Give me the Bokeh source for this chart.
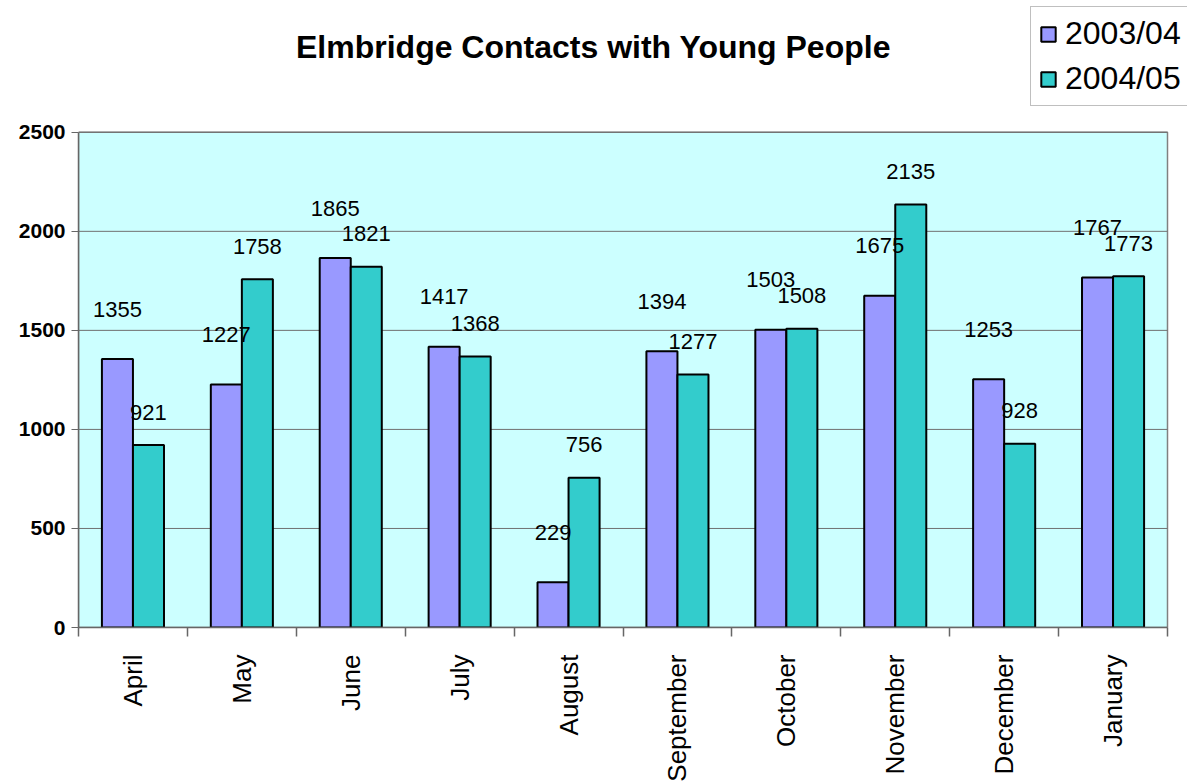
from bokeh.plotting import figure
from bokeh.models import (ColumnDataSource, FixedTicker, Legend, LegendItem, Range1d, Label)
from bokeh.core.properties import value
from bokeh.embed import file_html
from bokeh.resources import INLINE

months = ["April", "May", "June", "July", "August", "September", "October",
          "November", "December", "January"]
series_names = ["2003/04", "2004/05"]
contacts_0304 = [1355, 1227, 1865, 1417, 229, 1394, 1503, 1675, 1253, 1767]
contacts_0405 = [921, 1758, 1821, 1368, 756, 1277, 1508, 2135, 928, 1773]
y_ticks = [0, 500, 1000, 1500, 2000, 2500]
title_text = "Elmbridge Contacts with Young People"

colors = ["#9999FF", "#33CCCC"]
label_offsets = [-50, -33]          # label lift above bar top per series (px)
FONT = "Liberation Sans"
bar_w = 0.285

# layout (pixels)
W, H = 1187, 784
LEFT, BOTTOM = 78, 156
AREA_W, AREA_H = 1089, 496          # size of the cyan plotting area
FRAME_W, FRAME_H = W - LEFT, H - BOTTOM

n = len(months)
ymax = y_ticks[-1]
centers = [i + 0.5 for i in range(n)]

src1 = ColumnDataSource(dict(x=[c - bar_w / 2 for c in centers], top=contacts_0304,
                             lab=[str(v) for v in contacts_0304]))
src2 = ColumnDataSource(dict(x=[c + bar_w / 2 for c in centers], top=contacts_0405,
                             lab=[str(v) for v in contacts_0405]))

p = figure(width=W, height=H, output_backend="svg", toolbar_location=None,
           x_range=Range1d(0, n * FRAME_W / AREA_W),
           y_range=Range1d(0, ymax * FRAME_H / AREA_H),
           min_border_left=LEFT, min_border_right=0, min_border_top=0,
           min_border_bottom=BOTTOM, title_location=None)

p.background_fill_color = "white"
p.border_fill_color = "white"
p.outline_line_color = None
p.xgrid.grid_line_color = None
p.ygrid.grid_line_color = None

# plotting area
p.quad(left=[0], right=[n], bottom=[0], top=[ymax], fill_color="#CCFFFF",
       line_color="#808080", line_width=1.5)
# gridlines
p.segment(x0=[0] * len(y_ticks), x1=[n] * len(y_ticks), y0=y_ticks, y1=y_ticks,
          line_color="#707070", line_width=1)

r1 = p.vbar(x="x", top="top", width=bar_w, source=src1, fill_color=colors[0],
            line_color="black", line_width=2)
r2 = p.vbar(x="x", top="top", width=bar_w, source=src2, fill_color=colors[1],
            line_color="black", line_width=2)

for s, off in zip((src1, src2), label_offsets):
    p.text(x="x", y="top", text="lab", source=s, text_font=value(FONT),
           text_font_size="22px", text_align="center", text_baseline="middle",
           y_offset=off, text_color="black")

# title
p.add_layout(Label(x=593 - LEFT, y=FRAME_H - 47, x_units="screen", y_units="screen",
                   text=title_text, text_font=FONT, text_font_size="32px",
                   text_font_style="bold", text_color="black",
                   text_align="center", text_baseline="middle"))

# y axis
p.yaxis.ticker = FixedTicker(ticks=y_ticks)
p.yaxis.bounds = (0, ymax)
p.yaxis.major_label_text_font = FONT
p.yaxis.major_label_text_font_size = "21px"
p.yaxis.major_label_text_font_style = "bold"
p.yaxis.major_label_text_color = "black"
p.yaxis.axis_line_color = "#666666"
p.yaxis.axis_line_width = 1.5
p.yaxis.major_tick_line_color = "#666666"
p.yaxis.major_tick_out = 7
p.yaxis.major_tick_in = 0
p.yaxis.minor_tick_line_color = None
p.yaxis.major_label_standoff = 6

# x axis: labels at category centres, ticks at boundaries
p.xaxis.ticker = FixedTicker(ticks=centers, minor_ticks=list(range(n + 1)))
p.xaxis.bounds = (0, n)
p.xaxis.major_label_overrides = {c: m for c, m in zip(centers, months)}
p.xaxis.major_label_orientation = 3.14159265 / 2
p.xaxis.major_label_text_font = FONT
p.xaxis.major_label_text_font_size = "26px"
p.xaxis.major_label_text_color = "black"
p.xaxis.major_label_standoff = 18
p.xaxis.major_tick_line_color = None
p.xaxis.major_tick_out = 0
p.xaxis.major_tick_in = 0
p.xaxis.minor_tick_line_color = "#666666"
p.xaxis.minor_tick_line_width = 1.5
p.xaxis.minor_tick_out = 9
p.xaxis.minor_tick_in = 0
p.xaxis.axis_line_color = "#666666"
p.xaxis.axis_line_width = 1.5

legend = Legend(items=[LegendItem(label=series_names[0], renderers=[r1]),
                       LegendItem(label=series_names[1], renderers=[r2])],
                location=(1030 - LEFT, FRAME_H - 107))
legend.label_text_font = FONT
legend.label_text_font_size = "32px"
legend.label_text_color = "black"
legend.glyph_width = 18
legend.glyph_height = 18
legend.label_standoff = 8
legend.spacing = 8
legend.padding = 8
legend.margin = 0
legend.border_line_color = "#808080"
legend.border_line_width = 1.5
legend.background_fill_color = "white"
legend.background_fill_alpha = 1
p.add_layout(legend, "center")

open("out.html", "w").write(file_html(p, INLINE))
